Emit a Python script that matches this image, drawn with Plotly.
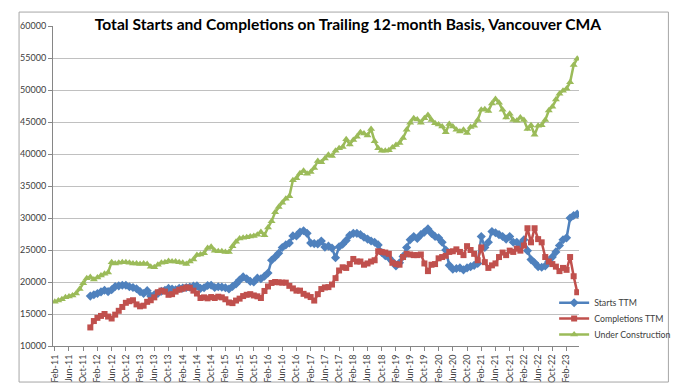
import plotly.graph_objects as go

months = ["Jan", "Feb", "Mar", "Apr", "May", "Jun", "Jul", "Aug", "Sep", "Oct", "Nov", "Dec"]
# monthly categories Feb-11 .. May-23
categories = []
y, m = 2011, 1
while (y, m) <= (2023, 4):
    categories.append(f"{months[m]}-{str(y)[2:]}")
    m += 1
    if m == 12:
        m, y = 0, y + 1

tick_labels = categories[::4]

starts_ttm = [None] * 10 + [
    17800, 18000, 18200, 18450, 18700, 18500, 18800, 19300, 19400, 19500,
    19500, 19250, 19150, 18950, 18500, 18200, 18650, 17800, 18000, 18200,
    18550, 18700, 19000, 18900, 18800, 19000, 19050, 19150, 19200, 19350,
    19400, 19000, 19100, 19450, 19500, 19150, 19250, 19200, 19100, 18900,
    19300, 19700, 20300, 20800, 20500, 20100, 20000, 20600, 20500, 20900,
    21400, 23400, 23900, 24500, 25400, 25800, 26100, 27200, 27200, 27800,
    28000, 27600, 26100, 26000, 25950, 26400, 25450, 25600, 25300,
    23800, 25500, 25900, 26500, 27300, 27600, 27600, 27400, 27000, 26700,
    26400, 26200, 25800, 24600, 24100, 23800, 23200, 22500, 23000, 24000,
    25400, 26600, 27100, 26800, 27400, 27800, 28300, 27600, 27100, 26900,
    26200, 25000, 22600, 22000, 22100, 22200, 21900, 22200, 22400, 22600,
    22900, 27100, 25400, 26200, 27900, 27700, 27400, 27100, 26700, 27100,
    26200, 26200, 25900, 26600, 24900, 23500, 23000, 22400, 22300, 22500,
    23200, 23900, 24700, 25700, 26600, 26900, 30000, 30400, 30600,
]

completions_ttm = [None] * 10 + [
    12900, 13900, 14400, 14700, 15000, 14600, 14300, 14900, 15500, 16100,
    16750, 17000, 17150, 16500, 16200, 16300, 16900, 17150, 17600, 18400,
    18650, 18500, 18000, 18100, 18500, 18800, 18950, 19150, 19100, 18650,
    18200, 17500, 17600, 17450, 17650, 17500, 17700, 17600, 17300, 16800,
    16700, 17100, 17400, 17800, 18000, 18100, 17900, 17760, 17500, 18600,
    19300, 19850, 20000, 19950, 19900, 19900, 19400, 19000, 18650, 18650,
    18150, 17900, 17650, 17100, 18100, 18900, 19150, 19200, 19600,
    20600, 21800, 22300, 22200, 22800, 23600, 23200, 23200, 22700, 22900,
    23200, 23400, 24800, 24700, 24600, 24400, 23000, 22800, 22700, 23900,
    24400, 24300, 24200, 24200, 24300, 22900, 21700, 22700, 22800, 23700,
    23900, 24100, 24700, 24800, 25100, 24700, 24200, 25600, 25000, 24400,
    23400, 25400, 23100, 22200, 22600, 22900, 23900, 24600, 24200, 24900,
    24700, 25200, 24900, 25700, 28400, 26200, 28400, 26700, 26200, 23900,
    23200, 22800, 22400, 21700, 22200, 21900, 23900, 20900, 18400,
]

under_construction = [
    16900, 17100, 17300, 17600, 17750, 17900, 18200, 18900, 19800, 20600,
    20800, 20400, 20700, 21000, 21300, 21500, 23100, 22900, 23000, 23100,
    23100, 23000, 22900, 22900, 22800, 22900, 22800, 22400, 22300, 22700,
    23000, 23100, 23300, 23200, 23200, 23100, 23000, 22800, 23200, 23500,
    24200, 24300, 24500, 25300, 25500, 24900, 24800, 24800, 24700, 24700,
    25600, 26300, 26800, 26900, 27000, 27100, 27200, 27400, 27800, 27300,
    28500, 29500, 30900, 31700, 32400, 33000, 33400, 35900, 36200, 37000,
    37400, 36900, 37200, 37800, 38900, 38700, 39300, 39900, 39700,
    40500, 40900, 41100, 42300, 41500, 42200, 42700, 43400, 43200, 42900,
    43900, 42000, 40900, 40500, 40500, 40600, 41000, 41400, 41700, 42500,
    43800, 44900, 45600, 45400, 44900, 45600, 46100, 45300, 44800, 44600,
    44300, 43400, 44700, 44300, 43800, 43500, 43800, 43300, 44200, 44400,
    45300, 46900, 47000, 46700, 47900, 48600, 48000, 46900, 45700, 46300,
    45300, 45200, 45700, 45300, 43900, 44500, 43000, 44400, 44500, 45300,
    46800, 47400, 48500, 49400, 49900, 50200, 51200, 53900, 54900,
]

y_ticks = [10000, 15000, 20000, 25000, 30000, 35000, 40000, 45000, 50000, 55000, 60000]

FONT = "Lato, 'Open Sans', sans-serif"
W, H = 680, 387
ML, MR, MT, MB = 36, 94, 15, 39
PW, PH = W - ML - MR, H - MT - MB


def px2paper_x(px):
    return (px - ML) / PW


def px2paper_y(py):
    return (H - MB - py) / PH


series = [
    ("Starts TTM", starts_ttm, "#4F81BD", "diamond", 7, "legend", 303),
    ("Completions TTM", completions_ttm, "#C0504D", "square", 6, "legend2", 319.5),
    ("Under Construction", under_construction, "#9BBB59", "triangle-up", 7, "legend3", 336),
]

fig = go.Figure()
legends = {}
for name, vals, col, sym, msize, leg, ly in series:
    fig.add_trace(go.Scatter(
        x=categories, y=vals, name=name, mode="lines+markers",
        line=dict(color=col, width=2.5),
        marker=dict(symbol=sym, size=msize, color=col),
        legend=leg,
    ))
    legends[leg] = dict(
        x=px2paper_x(560), xanchor="left",
        y=px2paper_y(ly), yanchor="middle",
        bgcolor="rgba(0,0,0,0)", font=dict(size=8.8, color="#404040", family=FONT),
        borderwidth=0,
    )

fig.update_layout(
    width=W, height=H,
    margin=dict(l=ML, r=MR, t=MT, b=MB),
    paper_bgcolor="white", plot_bgcolor="white",
    font=dict(family=FONT, color="#404040", size=9),
    title=dict(
        text="<b>Total Starts and Completions on Trailing 12-month Basis, Vancouver CMA</b>",
        font=dict(family=FONT, size=15.6, color="black"),
        x=0.5, xref="container", xanchor="center",
        y=1 - 17 / H, yref="container", yanchor="middle",
    ),
    xaxis=dict(
        type="category", categoryorder="array", categoryarray=categories,
        range=[-0.5, len(categories) - 0.5],
        tickmode="array", tickvals=tick_labels, ticktext=tick_labels,
        tickangle=-90, ticks="outside", ticklen=4, tickcolor="#868686",
        showline=True, linecolor="#868686", linewidth=1,
        showgrid=False, tickfont=dict(size=9, color="#404040"),
    ),
    yaxis=dict(
        range=[10000, 60000], tickmode="array", tickvals=y_ticks,
        ticktext=[str(v) for v in y_ticks],
        ticks="outside", ticklen=4, tickcolor="#868686",
        showline=True, linecolor="#868686", linewidth=1,
        showgrid=True, gridcolor="#c0c0c0", gridwidth=1,
        zeroline=False, tickfont=dict(size=9, color="#404040"),
    ),
    showlegend=True,
    shapes=[
        # white box behind title hiding the top gridline
        dict(type="rect", xref="paper", yref="paper",
             x0=px2paper_x(84), x1=px2paper_x(600),
             y0=px2paper_y(24), y1=px2paper_y(8),
             fillcolor="white", line=dict(width=0), layer="above"),
        # chart area border
        dict(type="rect", xref="paper", yref="paper",
             x0=px2paper_x(0.5), x1=px2paper_x(W - 0.5),
             y0=px2paper_y(H - 1.5), y1=px2paper_y(0.5),
             line=dict(color="#a6a6a6", width=1), fillcolor="rgba(0,0,0,0)"),
    ],
    **legends,
)

fig.write_html("out.html")
